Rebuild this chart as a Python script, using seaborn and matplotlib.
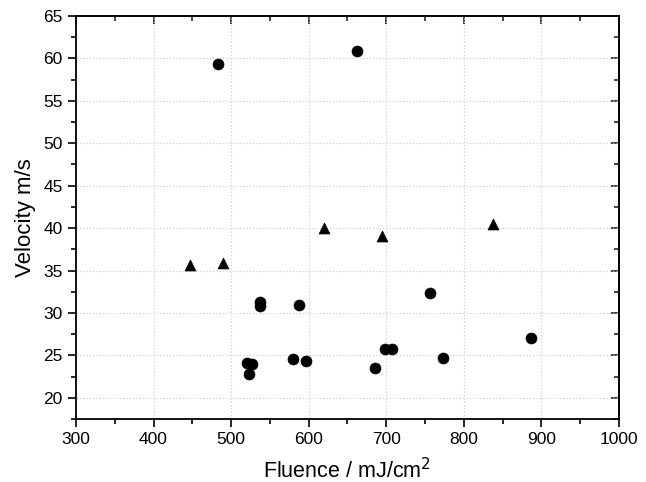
import matplotlib
matplotlib.use("Agg")
import matplotlib.pyplot as plt
import seaborn as sns
import pandas as pd
from matplotlib.ticker import MultipleLocator

# circle series
circle_fluence = [483, 662, 537, 537, 587, 521, 527, 523, 580, 596,
                  686, 699, 708, 756, 773, 886]
circle_velocity = [59.3, 60.9, 31.3, 30.8, 30.9, 24.1, 24.0, 22.8, 24.6, 24.3,
                   23.5, 25.7, 25.8, 32.3, 24.7, 27.0]

# triangle series
tri_fluence = [447, 490, 620, 695, 838]
tri_velocity = [35.6, 35.9, 40.0, 39.1, 40.5]

circles = pd.DataFrame({"fluence": circle_fluence, "velocity": circle_velocity})
triangles = pd.DataFrame({"fluence": tri_fluence, "velocity": tri_velocity})

sns.set_style("ticks")
plt.rcParams["font.family"] = ["Liberation Sans", "DejaVu Sans"]
plt.rcParams["text.color"] = "black"
plt.rcParams["axes.labelcolor"] = "black"

fig = plt.figure(figsize=(6.46, 4.82), dpi=100)
ax = fig.add_axes([0.1176, 0.1307, 0.8406, 0.8361])

sns.scatterplot(data=circles, x="fluence", y="velocity", marker="o", s=62,
                color="black", edgecolor="black", linewidth=0.5, ax=ax, zorder=3)
sns.scatterplot(data=triangles, x="fluence", y="velocity", marker="^", s=62,
                color="black", edgecolor="black", linewidth=0.5, ax=ax, zorder=3)

ax.set_xlim(300, 1000)
ax.set_ylim(17.5, 65)
ax.xaxis.set_major_locator(MultipleLocator(100))
ax.xaxis.set_minor_locator(MultipleLocator(50))
ax.yaxis.set_major_locator(MultipleLocator(5))
ax.yaxis.set_minor_locator(MultipleLocator(2.5))

ax.grid(True, which="major", linestyle=(0, (1, 2)), color="#c8c8c8", linewidth=0.8)
ax.set_axisbelow(True)

for sp in ax.spines.values():
    sp.set_linewidth(1.3)
    sp.set_color("black")

ax.tick_params(which="both", direction="out", width=1.2, colors="black",
               labelsize=12.5)
ax.tick_params(which="major", length=6)
ax.tick_params(which="minor", length=3.5)

# inward ticks on top and right
ax_top = ax.secondary_xaxis("top")
ax_top.xaxis.set_major_locator(MultipleLocator(100))
ax_top.xaxis.set_minor_locator(MultipleLocator(50))
ax_top.tick_params(which="both", direction="in", width=1.2, labeltop=False)
ax_top.tick_params(which="major", length=6)
ax_top.tick_params(which="minor", length=3.5)
ax_top.spines["top"].set_linewidth(1.3)

ax_right = ax.secondary_yaxis("right")
ax_right.yaxis.set_major_locator(MultipleLocator(5))
ax_right.yaxis.set_minor_locator(MultipleLocator(2.5))
ax_right.tick_params(which="both", direction="in", width=1.2, labelright=False)
ax_right.tick_params(which="major", length=6)
ax_right.tick_params(which="minor", length=3.5)
ax_right.spines["right"].set_linewidth(1.3)

ax.set_xlabel("Fluence / mJ/cm$^{2}$", fontsize=15.5, labelpad=8)
ax.set_ylabel("Velocity m/s", fontsize=16, labelpad=5)

fig.savefig("out.png", dpi=100)
